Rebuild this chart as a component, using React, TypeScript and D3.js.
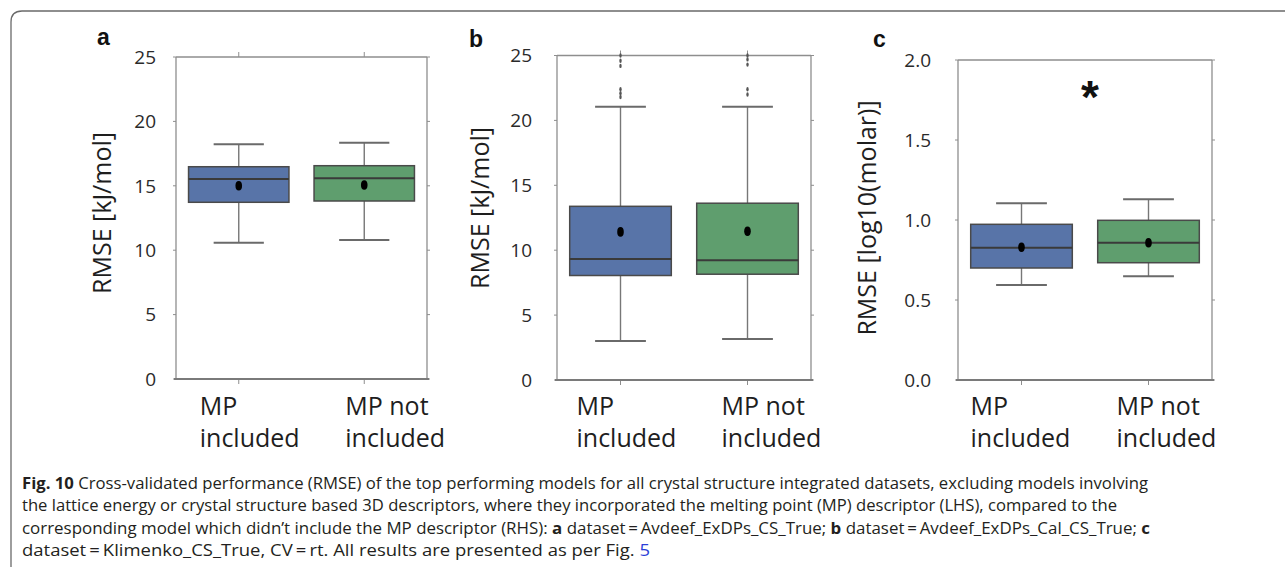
import React from "react";
import * as d3 from "d3";

// ---------- data ----------
const categories = ["MP included", "MP not included"];
const categoryLines = [["MP", "included"], ["MP not", "included"]];
const panelLetters = ["a", "b", "c"];
const yTitles = ["RMSE [kJ/mol]", "RMSE [kJ/mol]", "RMSE [log10(molar)]"];
const yMax = [25, 25, 2.0];
const yTickValues = [
  [0, 5, 10, 15, 20, 25],
  [0, 5, 10, 15, 20, 25],
  [0, 0.5, 1.0, 1.5, 2.0],
];
const yTickFormats = ["d", "d", ".1f"];

const whiskerLow = [[10.58, 10.79], [3.0, 3.15], [0.594, 0.648]];
const q1 = [[13.72, 13.82], [8.05, 8.15], [0.70, 0.733]];
const median = [[15.53, 15.58], [9.33, 9.23], [0.827, 0.858]];
const q3 = [[16.48, 16.56], [13.38, 13.62], [0.973, 0.998]];
const whiskerHigh = [[18.22, 18.35], [21.05, 21.05], [1.104, 1.129]];
const means = [[15.0, 15.06], [11.41, 11.46], [0.83, 0.858]];
const outliers = [
  [[], []],
  [[21.8, 22.1, 22.4, 24.2, 24.6, 25.0], [22.0, 22.4, 24.3, 24.7, 25.0]],
  [[], []],
];
const significance = ["", "", "*"];

const captionLines = [
  [{ t: "Fig. 10", b: true }, { t: "  Cross-validated performance (RMSE) of the top performing models for all crystal structure integrated datasets, excluding models involving" }],
  [{ t: "the lattice energy or crystal structure based 3D descriptors, where they incorporated the melting point (MP) descriptor (LHS), compared to the" }],
  [
    { t: "corresponding model which didn\u2019t include the MP descriptor (RHS): " },
    { t: "a", b: true },
    { t: " dataset\u2009=\u2009Avdeef_ExDPs_CS_True; " },
    { t: "b", b: true },
    { t: " dataset\u2009=\u2009Avdeef_ExDPs_Cal_CS_True; " },
    { t: "c", b: true },
  ],
  [{ t: "dataset\u2009=\u2009Klimenko_CS_True, CV\u2009=\u2009rt. All results are presented as per Fig. " }, { t: "5", link: true }],
];

// ---------- layout ----------
const layout = [
  { left: 176, right: 427, top: 57, bottom: 379, tickGap: 20, titleX: 111, titleY: 213, letterX: 97, letterY: 45, labelDx: [-39, -19], topTicks: true },
  { left: 557, right: 811, top: 55.5, bottom: 380, tickGap: 25, titleX: 489, titleY: 208, letterX: 469, letterY: 47, labelDx: [-44, -26], topTicks: true },
  { left: 958, right: 1212, top: 60, bottom: 380, tickGap: 27, titleX: 876, titleY: 218, letterX: 873, letterY: 47, labelDx: [-51, -32], topTicks: false },
];
const captionLayout = { x: 22, y0: 488.5, dy: 22.6, widths: [1126, 1095, 1128, 628] };

const boxColors = ["#5874a8", "#5f9e6e"];
const axisColor = "#8e8e8e";
const textColor = "#1e1e1e";
const FONT = "'Open Sans', 'Noto Sans', sans-serif";

function Panel({ i }: { i: number }) {
  const L = layout[i];
  const y = d3.scaleLinear().domain([0, yMax[i]]).range([L.bottom, L.top]);
  const x = d3.scaleBand<string>().domain(categories).range([L.left, L.right]).padding(0);
  const bw = x.bandwidth() * 0.8;
  const fmt = d3.format(yTickFormats[i]);
  return (
    <g>
      {/* frame */}
      <line x1={L.left} x2={L.right} y1={L.top} y2={L.top} stroke={axisColor} strokeWidth={1.3} />
      <line x1={L.left} x2={L.left} y1={L.top} y2={L.bottom} stroke={axisColor} strokeWidth={1.3} />
      <line x1={L.right} x2={L.right} y1={L.top} y2={L.bottom} stroke={axisColor} strokeWidth={1.3} />
      {yTickValues[i].map((v) => (
        <g key={v}>
          <line x1={L.left - 3} x2={L.left} y1={y(v)} y2={y(v)} stroke={axisColor} strokeWidth={1} />
          <line x1={L.right} x2={L.right + 3} y1={y(v)} y2={y(v)} stroke={axisColor} strokeWidth={1} />
          <text x={L.left - L.tickGap} y={y(v)} dy="0.36em" textAnchor="end" fontSize={19} fontFamily={FONT} fill="#2a2a2a">
            {fmt(v)}
          </text>
        </g>
      ))}
      {categories.map((c) => {
        const cx = x(c)! + x.bandwidth() / 2;
        return (
          <g key={c}>
            <line x1={cx} x2={cx} y1={L.bottom} y2={L.bottom + 5} stroke={axisColor} strokeWidth={1} />
            {L.topTicks && <line x1={cx} x2={cx} y1={L.top - 5} y2={L.top} stroke={axisColor} strokeWidth={1} />}
          </g>
        );
      })}
      <line x1={L.left - 2} x2={L.right + 2} y1={L.bottom} y2={L.bottom} stroke="#7a7a7a" strokeWidth={2} />

      {/* boxes */}
      {categories.map((c, k) => {
        const cx = x(c)! + x.bandwidth() / 2;
        return (
          <g key={c}>
            <line x1={cx} x2={cx} y1={y(whiskerLow[i][k])} y2={y(q1[i][k])} stroke="#777" strokeWidth={1.4} />
            <line x1={cx} x2={cx} y1={y(q3[i][k])} y2={y(whiskerHigh[i][k])} stroke="#777" strokeWidth={1.4} />
            <line x1={cx - bw / 4} x2={cx + bw / 4} y1={y(whiskerLow[i][k])} y2={y(whiskerLow[i][k])} stroke="#6a6a6a" strokeWidth={2} />
            <line x1={cx - bw / 4} x2={cx + bw / 4} y1={y(whiskerHigh[i][k])} y2={y(whiskerHigh[i][k])} stroke="#6a6a6a" strokeWidth={2} />
            <rect x={cx - bw / 2} y={y(q3[i][k])} width={bw} height={y(q1[i][k]) - y(q3[i][k])} fill={boxColors[k]} stroke="#4a4a4a" strokeWidth={1.5} />
            <line x1={cx - bw / 2} x2={cx + bw / 2} y1={y(median[i][k])} y2={y(median[i][k])} stroke="#3a3a3a" strokeWidth={2} />
            <ellipse cx={cx} cy={y(means[i][k])} rx={3.3} ry={4.8} fill="#000" />
            {outliers[i][k].map((o, j) => (
              <ellipse key={j} cx={cx} cy={y(o)} rx={1.2} ry={2.2} fill="#555" />
            ))}
          </g>
        );
      })}

      {significance[i] && (
        <text x={(L.left + L.right) / 2 + 5} y={y(1.825)} dy="0.55em" textAnchor="middle" fontSize={46} fontWeight="bold" fontFamily="'Liberation Sans', Arial, sans-serif" fill="#111">
          {significance[i]}
        </text>
      )}

      {/* x labels */}
      {categories.map((c, k) => {
        const cx = x(c)! + x.bandwidth() / 2;
        return (
          <text key={c} x={cx + L.labelDx[k]} y={414.5} fontSize={25} fontFamily={FONT} fill={textColor}>
            {categoryLines[k].map((ln, j) => (
              <tspan key={j} x={cx + L.labelDx[k]} dy={j === 0 ? 0 : 32}>
                {ln}
              </tspan>
            ))}
          </text>
        );
      })}

      {/* y title */}
      <text transform={`translate(${L.titleX},${L.titleY}) rotate(-90)`} textAnchor="middle" fontSize={25} fontFamily={FONT} fill={textColor}>
        {yTitles[i]}
      </text>
      <text x={L.letterX} y={L.letterY} fontSize={23} fontWeight="bold" fontFamily="'Liberation Sans', Arial, sans-serif" fill="#111">
        {panelLetters[i]}
      </text>
    </g>
  );
}

export default function App() {
  return (
    <svg width={1285} height={567} style={{ position: "absolute", left: 0, top: 0, background: "#fff" }}>
      <rect x={0} y={0} width={1285} height={567} fill="#fff" />
      <path d="M 11 567 V 22 Q 11 11 22 11 H 1285" fill="none" stroke="#6a6a6a" strokeWidth={1.3} />
      {[0, 1, 2].map((i) => (
        <Panel key={i} i={i} />
      ))}
      {captionLines.map((line, li) => (
        <text
          key={li}
          x={captionLayout.x}
          y={captionLayout.y0 + li * captionLayout.dy}
          fontSize={16.5}
          fontFamily={FONT}
          fill="#231f20"
          textLength={captionLayout.widths[li]}
          lengthAdjust="spacingAndGlyphs"
        >
          {line.map((s: any, j) => (
            <tspan key={j} fontWeight={s.b ? "bold" : "normal"} fill={s.link ? "#2b3fd8" : undefined}>
              {s.t}
            </tspan>
          ))}
        </text>
      ))}
    </svg>
  );
}
